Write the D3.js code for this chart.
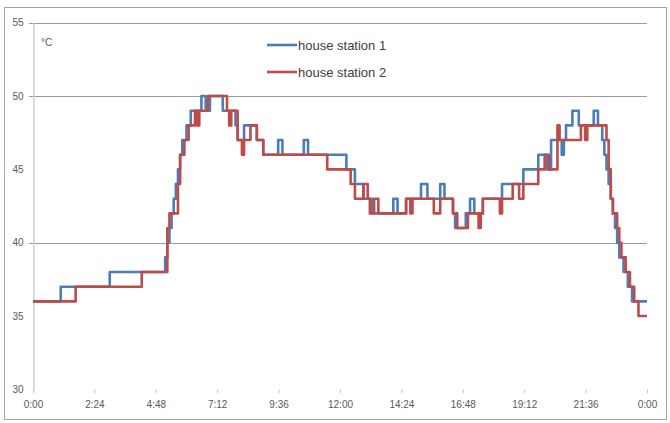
<!DOCTYPE html>
<html>
<head>
<meta charset="utf-8">
<script src="https://cdn.jsdelivr.net/npm/d3@7"></script>
<style>
  html, body { margin: 0; padding: 0; background: #fff; }
  svg { display: block; }
  text { font-family: "Liberation Sans", Arial, sans-serif; }
</style>
</head>
<body>
<svg id="chart" width="670" height="423"></svg>
<script>
// ---- data (change points of the step readings) ----
const seriesNames = ["house station 1", "house station 2"];
const times1 = ["0:00","1:05","3:00","5:10","5:15","5:20","5:25","5:30","5:35","5:40","5:45","5:50","6:00","6:10","6:35","6:45","6:55","7:25","7:55","8:00","8:15","8:45","9:00","9:35","9:45","10:35","10:45","12:15","12:35","12:55","13:15","14:05","14:15","14:35","15:10","15:25","15:55","16:05","16:25","16:30","16:55","17:05","17:15","17:35","18:20","19:10","19:45","20:05","20:15","20:40","20:45","20:50","21:05","21:20","21:55","22:05","22:15","22:20","22:25","22:30","22:35","22:40","22:45","22:50","22:55","23:05","23:15","23:25","24:00"];
const temps1 = [36,37,38,39,40,41,42,43,44,45,46,47,48,49,50,49,50,49,48,47,48,47,46,47,46,47,46,45,44,43,42,43,42,43,44,43,44,43,42,41,42,43,42,43,44,45,46,45,47,46,47,48,49,48,49,48,47,46,45,44,43,42,41,40,39,38,37,36,36];
const times2 = ["0:00","1:40","4:15","5:15","5:20","5:40","5:45","5:55","6:05","6:20","6:25","6:30","6:50","7:35","7:40","7:45","8:00","8:10","8:15","8:30","8:45","9:00","11:30","12:25","12:35","12:55","13:05","13:10","13:20","13:30","14:35","14:45","14:50","15:40","15:55","16:25","16:35","17:00","17:25","17:30","17:35","18:15","18:20","18:45","19:00","19:10","19:45","20:00","20:10","20:30","20:35","21:25","21:35","21:40","22:25","22:30","22:35","22:40","22:50","22:55","23:00","23:10","23:20","23:30","23:40","24:00"];
const temps2 = [36,37,38,41,42,44,46,47,48,49,48,49,50,49,48,49,47,46,47,48,47,46,45,44,43,44,43,42,43,42,43,42,43,42,43,42,41,42,41,42,43,42,43,44,43,44,45,46,45,48,47,48,47,48,47,45,43,42,41,40,39,38,37,36,35,35];
const xTickLabels = ["0:00","2:24","4:48","7:12","9:36","12:00","14:24","16:48","19:12","21:36","0:00"];
const yTicks = [30,35,40,45,50,55];
const gridValues = [40,50,55];
const unitLabel = "°C";

// ---- setup ----
const toMin = s => { const [h, m] = s.split(":").map(Number); return h * 60 + m; };
const s1 = times1.map((t, i) => ({ t: toMin(t), v: temps1[i] }));
const s2 = times2.map((t, i) => ({ t: toMin(t), v: temps2[i] }));

const svg = d3.select("#chart");
const x = d3.scaleLinear().domain([0, 1440]).range([33, 647]);
const y = d3.scaleLinear().domain([30, 55]).range([389.4, 22.7]);

// outer frame
svg.append("rect").attr("x", 4.5).attr("y", 7.5).attr("width", 662).attr("height", 412)
  .attr("fill", "#fff").attr("stroke", "#a6a6a6").attr("stroke-width", 1);

// gridlines
svg.append("g").selectAll("line").data(gridValues).join("line")
  .attr("x1", 29).attr("x2", 647)
  .attr("y1", d => Math.round(y(d)) + 0.5).attr("y2", d => Math.round(y(d)) + 0.5)
  .attr("stroke", "#9a9a9a").attr("stroke-width", 1.2);

// y axis
const yAxis = svg.append("g").attr("transform", "translate(33.5,0)")
  .call(d3.axisLeft(y).tickValues(yTicks).tickSize(0).tickPadding(10).tickFormat(d3.format("d")));
yAxis.select(".domain").attr("stroke", "#d0d0d0").attr("stroke-width", 1.5);
yAxis.selectAll("text").attr("fill", "#595959").style("font-size", "10px")
  .style("font-family", "'Liberation Sans', Arial, sans-serif");

// x axis
const xAxis = svg.append("g").attr("transform", `translate(0,${y(30)})`)
  .call(d3.axisBottom(x).tickValues(d3.range(0, 1441, 144)).tickSize(4).tickPadding(8)
    .tickFormat((d, i) => xTickLabels[i]));
xAxis.select(".domain").remove();
xAxis.selectAll(".tick line").attr("stroke", "#c8c8c8");
xAxis.selectAll("text").attr("fill", "#595959").style("font-size", "10px")
  .style("font-family", "'Liberation Sans', Arial, sans-serif");

// unit label
svg.append("text").attr("x", 41).attr("y", 46).text(unitLabel)
  .attr("fill", "#595959").style("font-size", "10px");

// lines
const line = d3.line().x(d => x(d.t)).y(d => y(d.v)).curve(d3.curveStepAfter);
const colors = ["#4a7ebb", "#be4b48"];
[s1, s2].forEach((s, i) => {
  svg.append("path").datum(s).attr("d", line)
    .attr("fill", "none").attr("stroke", colors[i]).attr("stroke-width", 2.6)
    .attr("stroke-linejoin", "round");
});

// legend
const legend = svg.append("g");
seriesNames.forEach((name, i) => {
  const ly = 45 + i * 27;
  legend.append("line").attr("x1", 267).attr("x2", 297).attr("y1", ly).attr("y2", ly)
    .attr("stroke", colors[i]).attr("stroke-width", 2.6);
  legend.append("text").attr("x", 298).attr("y", ly + 4.5).text(name)
    .attr("fill", "#404040").style("font-size", "13px");
});
</script>
</body>
</html>
